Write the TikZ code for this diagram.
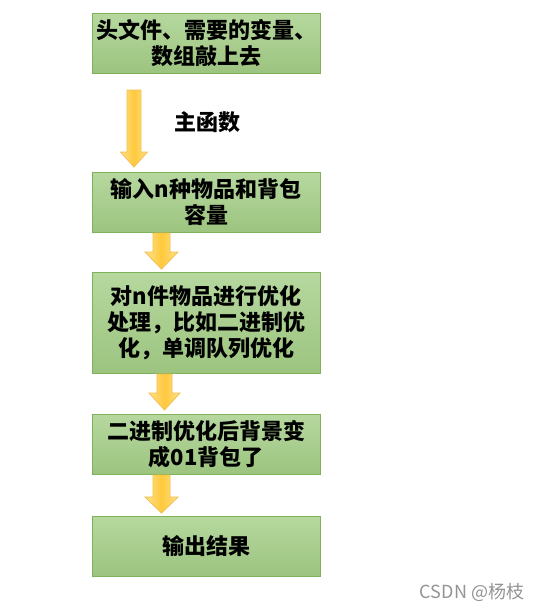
\documentclass[tikz,border=0pt]{standalone}
\usepackage{fontspec}
\setmainfont{Noto Sans CJK SC}
\definecolor{boxtop}{HTML}{B6D89F}
\definecolor{boxbot}{HTML}{9CC47F}
\definecolor{boxline}{HTML}{7FB05A}
\definecolor{arrtop}{HTML}{FFE08C}
\definecolor{arrbot}{HTML}{FFC93C}
\definecolor{arrline}{HTML}{F2C04E}
\tikzset{
  box/.style={draw=boxline, line width=0.9pt, top color=boxtop, bottom color=boxbot,
    minimum width=228pt, align=center, inner sep=0pt,
    font=\fontsize{22}{26}\selectfont\bfseries},
  blk/.style={draw=arrline, line width=0.8pt, left color=arrtop, right color=arrtop, middle color=arrbot, line join=miter}
}
\newcommand\blkarrow[6]{%
  \draw[blk] ({#1-#2},#4) -- ({#1+#2},#4) -- ({#1+#2},#5) -- ({#1+#3},#5) -- (#1,#6)
    -- ({#1-#3},#5) -- ({#1-#2},#5) -- cycle;}
\begin{document}
\begin{tikzpicture}[x=1pt,y=-1pt]
\useasboundingbox[fill=white] (0,0) rectangle (544,611);
\node[box, minimum height=60pt] (b1) at (206,43) {头文件、需要的变量、\\数组敲上去};
\node[box, minimum height=60pt] (b2) at (206,202.5) {输入n种物品和背包\\容量};
\node[box, minimum height=101pt] (b3) at (206,322.5) {对n件物品进行优化\\处理，比如二进制优\\化，单调队列优化};
\node[box, minimum height=60pt] (b4) at (206,444.5) {二进制优化后背景变\\成01背包了};
\node[box, minimum height=60pt] (b5) at (206,546) {输出结果};
\blkarrow{134}{7}{13.5}{90}{152}{167}
\node[font=\fontsize{22}{26}\selectfont\bfseries] (lab) at (207,122) {主函数};
\blkarrow{161.5}{8.5}{16.5}{233}{252}{269}
\blkarrow{164.5}{7.5}{15.5}{374}{393}{410}
\blkarrow{161.5}{8.5}{16.5}{475}{497}{513}
\node[text=black!42, font=\fontsize{18}{20}\selectfont] (wm) at (472,592) {CSDN @杨枝};
\end{tikzpicture}
\end{document}
